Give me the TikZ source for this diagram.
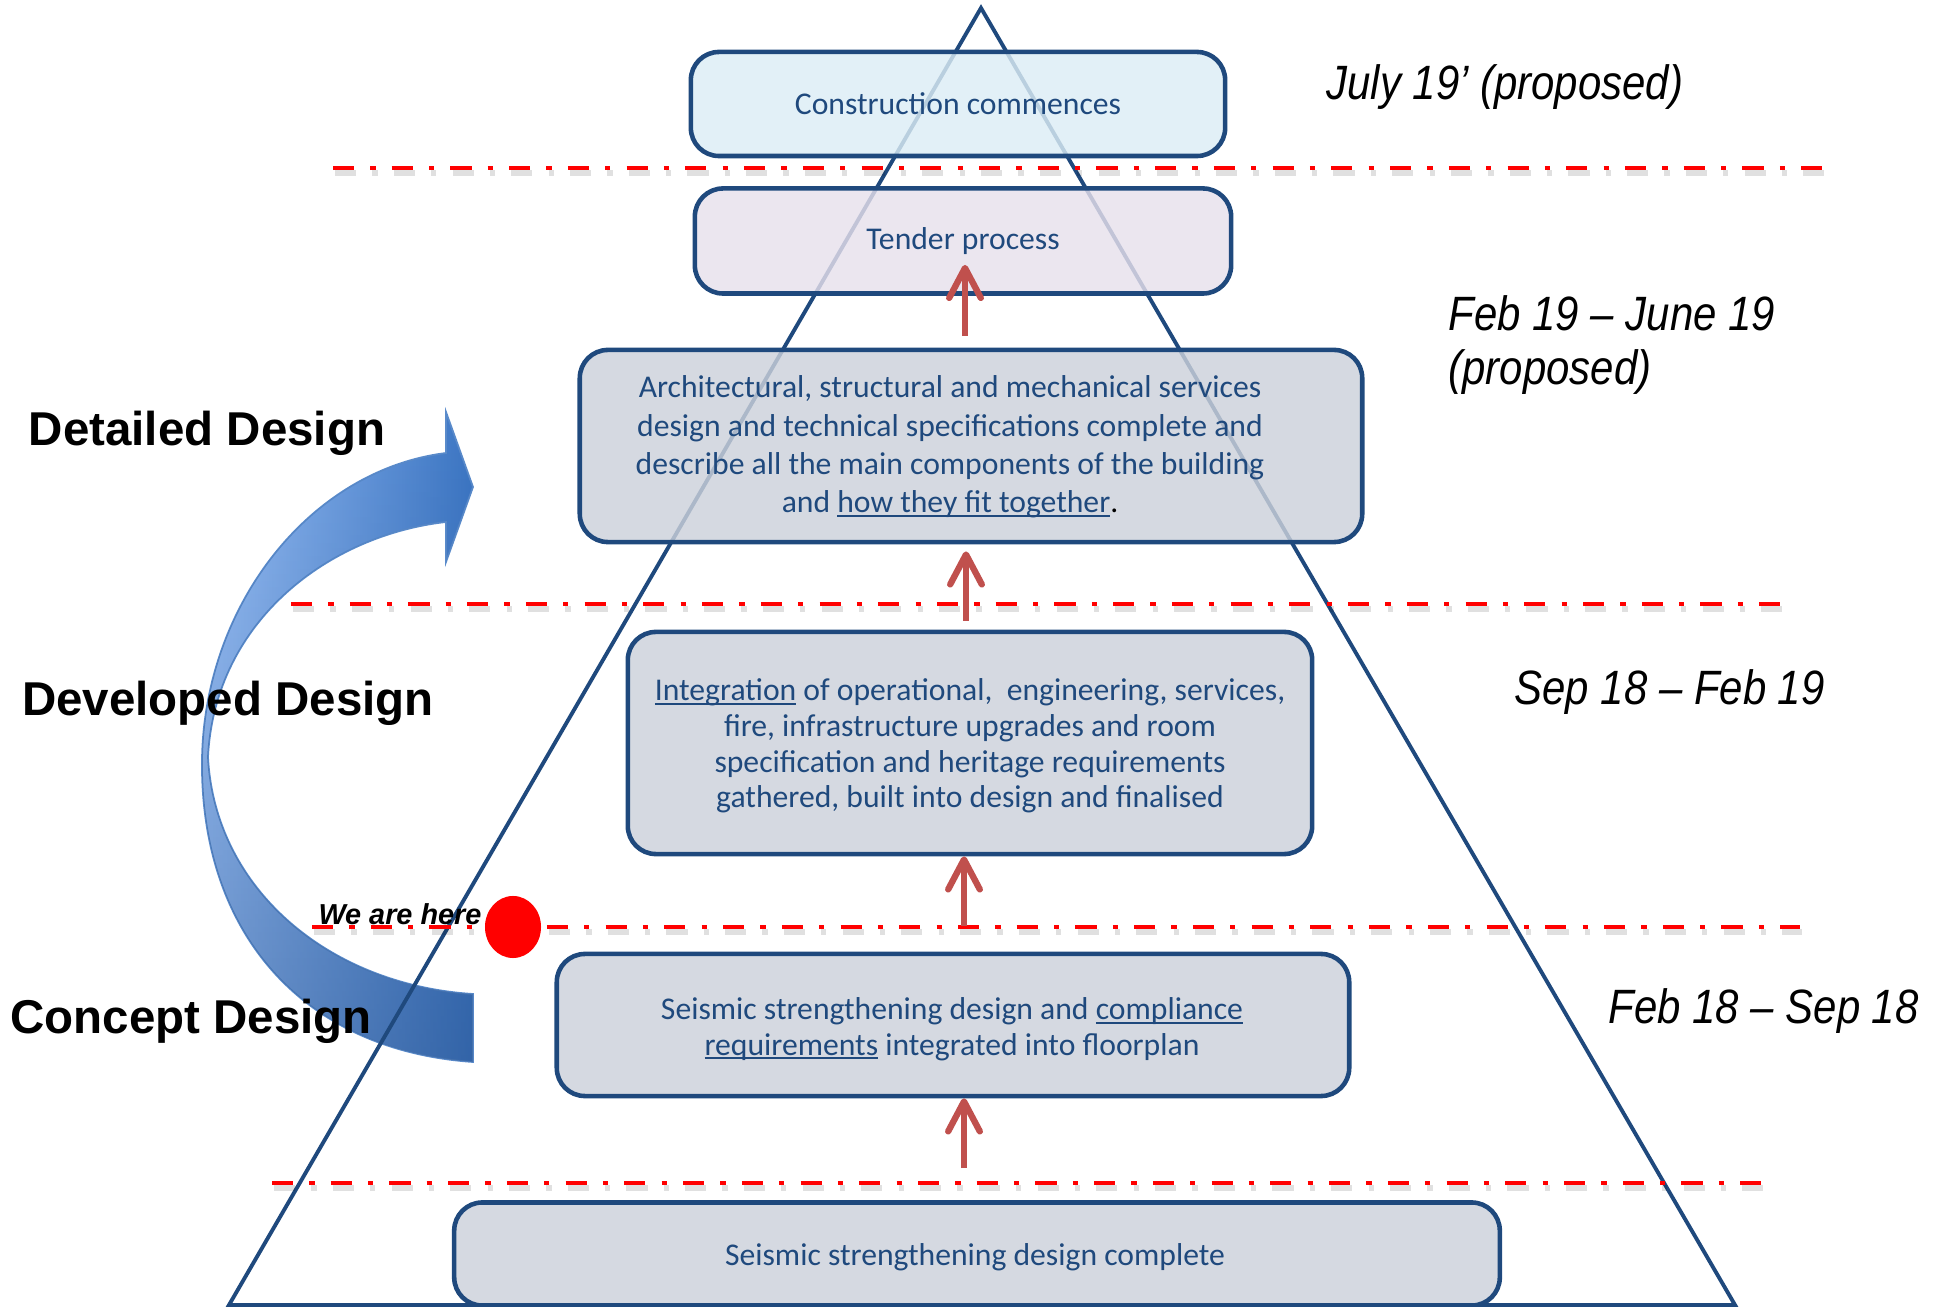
\documentclass[tikz,border=0pt]{standalone}
\usepackage{fontspec}
\setmainfont{Liberation Sans}
\newfontfamily\boxfont{Carlito}
\newfontfamily\datefont{Liberation Sans}[FakeStretch=0.87]
\usetikzlibrary{arrows.meta,shapes.geometric,fadings}

\definecolor{pyrblue}{HTML}{1F497D}
\definecolor{stagered}{HTML}{FF0000}
\definecolor{steparrow}{HTML}{C0504D}
\definecolor{cyanfill}{HTML}{DCEDF5}
\definecolor{lilacfill}{HTML}{E6E0EC}
\definecolor{greyfill}{HTML}{CCD1DA}
\definecolor{swoopA}{HTML}{9DC4FB}
\definecolor{swoopB}{HTML}{3C76C4}
\definecolor{swoopdark}{HTML}{24497E}
\definecolor{swoopedge}{HTML}{5A8BCB}

% underline that runs through the descenders
\newcommand{\linkword}[1]{\setbox0=\hbox{#1}\rlap{\rule[-1.2pt]{\wd0}{0.5pt}}\box0\relax}

\tikzset{
  stagebox/.style={draw=pyrblue, line width=1.3pt, rounded corners=8pt,
    fill opacity=0.82, text opacity=1, text=pyrblue, align=center, inner sep=0pt,
    font=\boxfont\fontsize{9}{10.1}\selectfont},
  stagetext/.style={text=pyrblue, align=center, inner sep=0pt,
    font=\boxfont\fontsize{9}{10.1}\selectfont},
  phase/.style={font=\bfseries\fontsize{13.5}{16}\selectfont, inner sep=0pt},
  here/.style={font=\bfseries\itshape\fontsize{8.2}{10}\selectfont, inner sep=0pt},
  period/.style={font=\datefont\itshape\fontsize{13.7}{15.6}\selectfont,
    anchor=west, align=left, inner sep=0pt},
  divider/.style={stagered, line width=1.4pt, dash pattern=on 6pt off 4.6pt on 1.5pt off 4.6pt},
  divshadow/.style={black, opacity=0.12, line width=1.8pt,
    dash pattern=on 6pt off 4.6pt on 1.5pt off 4.6pt, transform canvas={shift={(0.6pt,-1.4pt)}}},
  uparrow/.style={steparrow, line width=1.8pt, -{Straight Barb[length=8.5pt,width=9pt,round]}},
}

\begin{document}
\begin{tikzpicture}[x=0.01cm, y=-0.01cm]
  \useasboundingbox (0,0) rectangle (1936,1307);

  % curved block arrow
  \shadedraw[left color=swoopA, right color=swoopB, draw=swoopedge, line width=0.5pt]
    (473,487) -- (446,562) -- (446,522)
    .. controls (330,535) and (215,620) .. (208,757)
    .. controls (215,890) and (330,985) .. (473,994)
    -- (473,1062)
    .. controls (300,1050) and (200,930) .. (202,760)
    .. controls (204,605) and (310,470) .. (446,453)
    -- (446,412) -- cycle;
  \fill[swoopdark, fill opacity=0.4, path fading=north]
    (473,487) -- (446,562) -- (446,522)
    .. controls (330,535) and (215,620) .. (208,757)
    .. controls (215,890) and (330,985) .. (473,994)
    -- (473,1062)
    .. controls (300,1050) and (200,930) .. (202,760)
    .. controls (204,605) and (310,470) .. (446,453)
    -- (446,412) -- cycle;

  % pyramid
  \coordinate (apex) at (981,8);
  \coordinate (baseL) at (229,1305);
  \coordinate (baseR) at (1735,1305);
  \draw[pyrblue, line width=1.1pt] (apex) -- (baseR) -- (baseL) -- cycle;

  % dividers
  \draw[divshadow] (333,168) -- (1825,168);
  \draw[divshadow] (291,604) -- (1780,604);
  \draw[divshadow] (312,927) -- (1800,927);
  \draw[divshadow] (272,1183) -- (1761,1183);
  \draw[divider] (333,168) -- (1825,168);
  \draw[divider] (291,604) -- (1780,604);
  \draw[divider] (312,927) -- (1800,927);
  \draw[divider] (272,1183) -- (1761,1183);

  % stage 6
  \node[stagebox, fill=cyanfill, minimum width=5.34cm, minimum height=1.04cm] (b1) at (958,104)
    {Construction commences};
  % stage 5
  \node[stagebox, fill=lilacfill, minimum width=5.36cm, minimum height=1.05cm] (b2) at (963,241)
    {Tender process};
  % stage 4
  \node[stagebox, fill=greyfill, minimum width=7.82cm, minimum height=1.92cm] (b3) at (971,446) {};
  \node[stagetext, font=\boxfont\fontsize{9}{10.9}\selectfont] (b3text) at (950,447)
    {Architectural, structural and mechanical services\\
     design and technical specifications complete and\\
     describe all the main components of the building\\
     and \linkword{how they fit together}{\color{black}.}};
  % stage 3
  \node[stagebox, fill=greyfill, minimum width=6.84cm, minimum height=2.22cm] (b4) at (970,743) {};
  \node[stagetext] (b4text) at (970,746)
    {\linkword{Integration} of operational,~ engineering, services,\\
     fire, infrastructure upgrades and room\\
     specification and heritage requirements\\
     gathered, built into design and finalised};
  % stage 2
  \node[stagebox, fill=greyfill, minimum width=7.92cm, minimum height=1.42cm] (b5) at (953,1025) {};
  \node[stagetext] (b5text) at (952,1029)
    {Seismic strengthening design and \linkword{compliance}\\
     \linkword{requirements} integrated into floorplan};
  % stage 1
  \node[stagebox, fill=greyfill, minimum width=10.45cm, minimum height=1.03cm] (b6) at (977,1254) {};
  \node[stagetext] (b6text) at (975,1257) {Seismic strengthening design complete};

  % arrows between stages
  \coordinate (t1) at (964,1168);
  \coordinate (t2) at (964,926);
  \coordinate (t3) at (966,621);
  \coordinate (t4) at (965,336);
  \draw[uparrow] (t1) -- (t1 |- b5.south);
  \draw[uparrow] (t2) -- (t2 |- b4.south);
  \draw[uparrow] (t3) -- ([yshift=-2pt]t3 |- b3.south);
  \draw[uparrow] (t4) -- ([yshift=8.8pt]t4 |- b2.south);

  % phases
  \node[phase] (detailed) at (207,433) {Detailed Design};
  \node[phase] (developed) at (228,703) {Developed Design};
  \node[phase] (concept) at (191,1021) {Concept Design};

  % current position
  \node[here] (wearehere) at (400,914) {We are here};
  \node[ellipse, fill=stagered, minimum width=0.56cm, minimum height=0.62cm, inner sep=0pt]
    (herebullet) at (513,927) {};

  % dates
  \node[period] (d1) at (1326,87) {July 19’ (proposed)};
  \node[period] (d2) at (1448,345) {Feb 19 – June 19\\(proposed)};
  \node[period] (d3) at (1514,692) {Sep 18 – Feb 19};
  \node[period] (d4) at (1608,1011) {Feb 18 – Sep 18};
\end{tikzpicture}
\end{document}
